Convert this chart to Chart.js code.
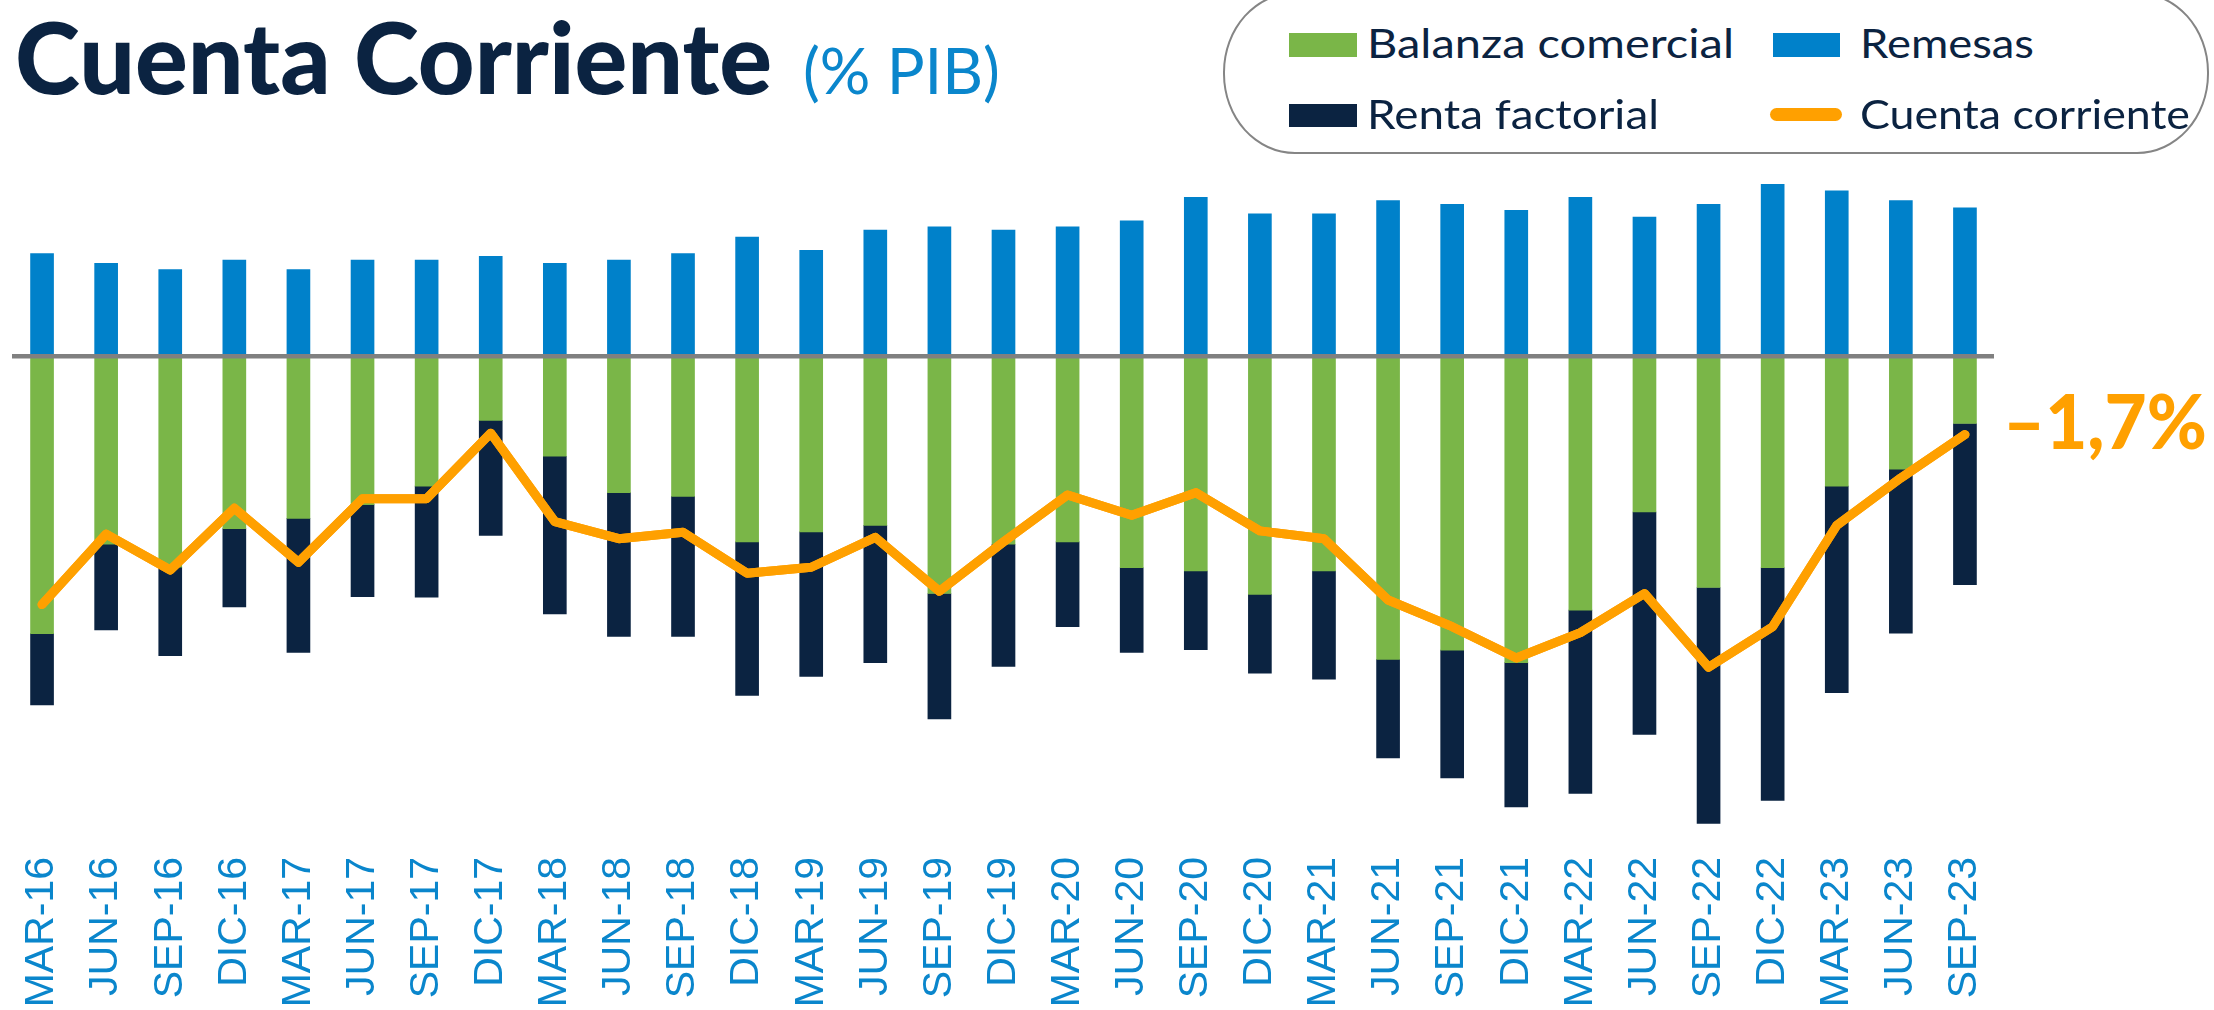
<!DOCTYPE html>
<html>
<head>
<meta charset="utf-8">
<script src="https://cdn.jsdelivr.net/npm/chart.js@4"></script>
<style>
  html, body { margin:0; padding:0; background:#fff; overflow:hidden; }
  #wrap { position:relative; width:2214px; height:1010px; }
  #c { position:absolute; left:0; top:0; }
  .t { position:absolute; white-space:nowrap; transform-origin:0 0; line-height:1.2; }
  .sw { position:absolute; }
  #legbox { position:absolute; left:1223px; top:-8px; width:986px; height:162px; border:2.5px solid #858585; border-radius:72px / 80px; box-sizing:border-box; background:#fff; }
</style>
</head>
<body>
<div id="wrap">
  <canvas id="c" width="2214" height="1010"></canvas>
  <div id="legbox"></div>
  <div class="sw" style="left:1289px;top:33px;width:68px;height:24px;background:#7AB648"></div>
  <div class="sw" style="left:1773px;top:33px;width:67px;height:24px;background:#0081CA"></div>
  <div class="sw" style="left:1289px;top:104px;width:68px;height:23px;background:#0B2341"></div>
  <div class="sw" style="left:1770px;top:108px;width:72px;height:13px;background:#FFA000;border-radius:7px"></div>
</div>
<script>
// ---------- data ----------
const categories = ["MAR-16","JUN-16","SEP-16","DIC-16","MAR-17","JUN-17","SEP-17","DIC-17",
  "MAR-18","JUN-18","SEP-18","DIC-18","MAR-19","JUN-19","SEP-19","DIC-19",
  "MAR-20","JUN-20","SEP-20","DIC-20","MAR-21","JUN-21","SEP-21","DIC-21",
  "MAR-22","JUN-22","SEP-22","DIC-22","MAR-23","JUN-23","SEP-23"];
const balanzaComercial = [-6.02,-4.08,-4.58,-3.74,-3.52,-3.22,-2.82,-1.39,
  -2.17,-2.96,-3.04,-4.03,-3.81,-3.67,-5.15,-4.08,
  -4.03,-4.59,-4.66,-5.17,-4.66,-6.58,-6.38,-6.65,
  -5.51,-3.38,-5.02,-4.59,-2.82,-2.45,-1.46];
const rentaFactorial = [-1.55,-1.86,-1.92,-1.70,-2.91,-2.00,-2.41,-2.50,
  -3.42,-3.12,-3.04,-3.33,-3.14,-2.98,-2.72,-2.65,
  -1.84,-1.84,-1.71,-1.71,-2.35,-2.14,-2.77,-3.13,
  -3.98,-4.83,-5.12,-5.05,-4.48,-3.56,-3.50];
const remesas = [2.23,2.02,1.88,2.09,1.88,2.09,2.09,2.17,
  2.02,2.09,2.23,2.59,2.30,2.74,2.81,2.74,
  2.81,2.94,3.45,3.09,3.09,3.38,3.30,3.17,
  3.45,3.02,3.30,3.73,3.59,3.38,3.22];
const cuentaCorriente = [-5.39,-3.86,-4.64,-3.30,-4.47,-3.09,-3.09,-1.67,
  -3.59,-3.96,-3.82,-4.71,-4.58,-3.93,-5.10,-4.03,
  -3.01,-3.45,-2.96,-3.79,-3.96,-5.29,-5.87,-6.55,
  -6.00,-5.15,-6.75,-5.87,-3.67,-2.64,-1.70];
const lastLabel = "–1,7%";
const title = "Cuenta Corriente";
const subtitle = "(% PIB)";
const legendNames = ["Balanza comercial","Remesas","Renta factorial","Cuenta corriente"];

// ---------- colours ----------
const GREEN = "#7AB648", BLUE = "#0081CA", NAVY = "#0B2341", ORANGE = "#FFA000", TICKBLUE = "#0A86CC";

// ---------- HTML texts (title + legend) ----------
const wrap = document.getElementById('wrap');
function addText(txt, left, baseline, targetW, font, color) {
  const d = document.createElement('div');
  d.className = 't';
  d.style.font = font; d.style.color = color;
  d.style.left = left + 'px'; d.style.top = '0px';
  const s = document.createElement('span'); s.textContent = txt;
  const m = document.createElement('i');
  m.style.cssText = 'display:inline-block;width:0;height:0;vertical-align:baseline';
  d.appendChild(s); d.appendChild(m);
  wrap.appendChild(d);
  const w = s.getBoundingClientRect().width;
  const b = m.getBoundingClientRect().top - wrap.getBoundingClientRect().top;
  d.style.top = (baseline - b) + 'px';
  d.style.transform = 'scaleX(' + (targetW / w) + ')';
}
addText(title, 15, 94, 757, '900 99px Lato', NAVY);
addText(subtitle, 803, 94, 197, '400 64px Lato', TICKBLUE);
addText(legendNames[0], 1367, 58, 367, '400 41px Lato', NAVY);
addText(legendNames[1], 1860, 58, 174, '400 41px Lato', NAVY);
addText(legendNames[2], 1367, 129, 292, '400 41px Lato', NAVY);
addText(legendNames[3], 1860, 129, 330, '400 41px Lato', NAVY);

// ---------- plugins ----------
const zeroLine = {
  id: 'zeroLine',
  afterDatasetsDraw(chart) {
    const {ctx, chartArea, scales} = chart;
    const y = scales.y.getPixelForValue(0);
    ctx.save();
    ctx.strokeStyle = '#808080';
    ctx.lineWidth = 4.5;
    ctx.beginPath();
    ctx.moveTo(chartArea.left + 2, y);
    ctx.lineTo(chartArea.right - 3, y);
    ctx.stroke();
    // redraw the line dataset on top
    chart.getDatasetMeta(3).controller.draw();
    // last value label
    const meta = chart.getDatasetMeta(3);
    const pt = meta.data[meta.data.length - 1];
    ctx.font = '900 76px Lato';
    ctx.fillStyle = ORANGE;
    ctx.textBaseline = 'alphabetic';
    ctx.textAlign = 'left';
    const w = ctx.measureText(lastLabel).width;
    ctx.translate(pt.x + 38, pt.y + 14);
    ctx.scale(204 / w, 1);
    ctx.fillText(lastLabel, 0, 0);
    ctx.restore();
  }
};

new Chart(document.getElementById('c'), {
  data: {
    labels: categories,
    datasets: [
      { type:'bar', label: legendNames[0], data: balanzaComercial, backgroundColor: GREEN, stack:'cc', order:1 },
      { type:'bar', label: legendNames[2], data: rentaFactorial, backgroundColor: NAVY, stack:'cc', order:1 },
      { type:'bar', label: legendNames[1], data: remesas, backgroundColor: BLUE, stack:'cc', order:1 },
      { type:'line', label: legendNames[3], data: cuentaCorriente, borderColor: ORANGE, backgroundColor: ORANGE,
        borderWidth: 9, pointRadius: 0, tension: 0, stack:'line', order:0,
        borderJoinStyle:'round', borderCapStyle:'round' }
    ]
  },
  options: {
    responsive: false,
    devicePixelRatio: 1,
    animation: false,
    layout: { padding: { left: 10, right: 217, top: 172, bottom: 0 } },
    plugins: { legend: { display: false }, tooltip: { enabled: false } },
    datasets: { bar: { barThickness: 23 } },
    scales: {
      x: {
        stacked: true,
        offset: true,
        grid: { display: false },
        border: { display: false },
        ticks: {
          autoSkip: false, minRotation: 90, maxRotation: 90, padding: 9,
          color: TICKBLUE, font: { family: "'Liberation Sans', Arial, sans-serif", size: 41 }
        },
        afterFit(scale) { scale.height = 170; }
      },
      y: {
        stacked: true,
        display: false,
        min: -10.5, max: 4
      }
    }
  },
  plugins: [zeroLine]
});
</script>
</body>
</html>
